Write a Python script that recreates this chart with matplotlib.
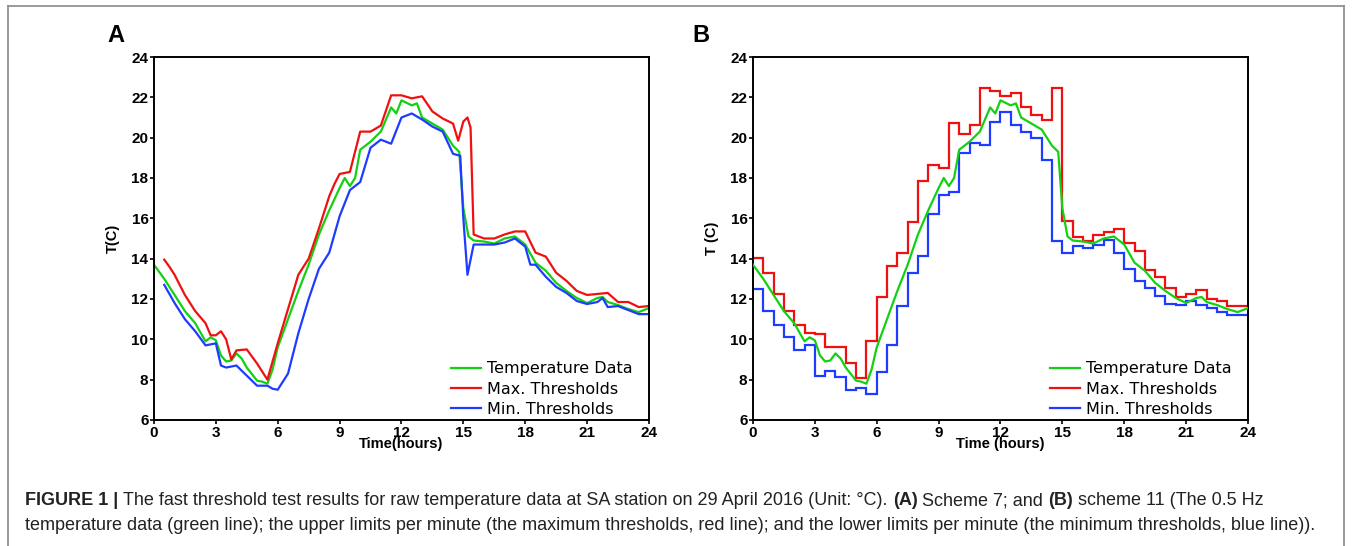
import numpy as np
import matplotlib
matplotlib.use('Agg')
import matplotlib.pyplot as plt
from matplotlib.lines import Line2D

plt.rcParams['font.family'] = ['Liberation Sans', 'DejaVu Sans']

# 温度データ（0.5 Hz、読み取り値）
temp_t = [0, 0.5, 1, 1.5, 2, 2.5, 2.75, 3, 3.25, 3.5, 3.75, 4, 4.25, 4.5, 5, 5.25,
          5.5, 5.75, 6, 6.5, 7, 7.5, 8, 8.5, 9, 9.25, 9.5, 9.75, 10, 10.5, 11,
          11.5, 11.75, 12, 12.5, 12.75, 13, 13.5, 14, 14.5, 14.8, 15, 15.25, 15.5,
          16, 16.5, 17, 17.5, 18, 18.5, 19, 19.5, 20, 20.5, 21, 21.5, 21.75, 22,
          22.5, 23, 23.5, 24]
temp_v = [13.7, 13.0, 12.2, 11.4, 10.8, 9.9, 10.1, 9.95, 9.2, 8.9, 8.95, 9.3, 9.05,
          8.6, 7.95, 7.9, 7.8, 8.5, 9.6, 11.0, 12.4, 13.7, 15.2, 16.4, 17.5, 18.0,
          17.6, 18.0, 19.4, 19.8, 20.3, 21.5, 21.2, 21.85, 21.6, 21.7, 21.0, 20.7,
          20.4, 19.6, 19.3, 16.5, 15.1, 14.9, 14.85, 14.75, 15.0, 15.1, 14.7, 13.8,
          13.4, 12.8, 12.4, 12.05, 11.8, 12.05, 12.1, 11.85, 11.7, 11.5, 11.35, 11.55]

# (A) Scheme 7 の上限・下限
a_max_t = [0.5, 0.75, 1, 1.5, 2, 2.5, 2.75, 3, 3.25, 3.5, 3.75, 4, 4.5, 5, 5.5, 6,
           6.5, 7, 7.5, 8, 8.5, 8.75, 9, 9.5, 10, 10.5, 11, 11.5, 12, 12.5, 13,
           13.5, 14, 14.5, 14.75, 15, 15.2, 15.35, 15.5, 16, 16.5, 17, 17.5, 18,
           18.5, 19, 19.5, 20, 20.5, 21, 21.5, 22, 22.5, 23, 23.5, 24]
a_max_v = [13.95, 13.6, 13.2, 12.2, 11.4, 10.8, 10.2, 10.2, 10.4, 10.0, 9.0, 9.45,
           9.5, 8.8, 8.0, 9.8, 11.5, 13.2, 14.0, 15.5, 17.1, 17.7, 18.2, 18.3, 20.3,
           20.3, 20.6, 22.1, 22.1, 21.95, 22.05, 21.3, 20.95, 20.7, 19.85, 20.8,
           21.0, 20.5, 15.2, 15.0, 15.0, 15.2, 15.35, 15.35, 14.3, 14.1, 13.3, 12.9,
           12.4, 12.2, 12.25, 12.3, 11.85, 11.85, 11.6, 11.65]
a_min_t = [0.5, 1, 1.5, 2, 2.5, 3, 3.25, 3.5, 4, 4.5, 5, 5.5, 5.75, 6, 6.5, 7, 7.5,
           8, 8.5, 9, 9.5, 10, 10.5, 11, 11.5, 12, 12.5, 13, 13.5, 14, 14.5, 14.85,
           15.0, 15.2, 15.5, 16, 16.5, 17, 17.5, 18, 18.25, 18.5, 19, 19.5, 20,
           20.5, 21, 21.5, 21.75, 22, 22.5, 23, 23.5, 24]
a_min_v = [12.7, 11.8, 11.0, 10.4, 9.7, 9.8, 8.7, 8.6, 8.7, 8.2, 7.7, 7.7, 7.55, 7.5,
           8.3, 10.3, 12.0, 13.5, 14.3, 16.1, 17.4, 17.8, 19.5, 19.9, 19.7, 21.0,
           21.2, 20.9, 20.55, 20.3, 19.2, 19.1, 16.0, 13.2, 14.7, 14.7, 14.7, 14.8,
           15.0, 14.6, 13.7, 13.7, 13.1, 12.6, 12.3, 11.9, 11.75, 11.85, 12.05, 11.6,
           11.65, 11.45, 11.25, 11.25]

# (B) Scheme 11 の上限・下限（30分ごとの階段）
b_step_t = np.arange(0, 24.5, 0.5)
b_max_v = [14.05, 13.3, 12.25, 11.4, 10.7, 10.3, 10.25, 9.6, 9.6, 8.85, 8.1, 9.9,
           12.1, 13.65, 14.3, 15.8, 17.85, 18.65, 18.5, 20.75, 20.2, 20.65, 22.45,
           22.3, 22.05, 22.2, 21.5, 21.1, 20.9, 22.45, 15.85, 15.05, 14.9, 15.15,
           15.3, 15.45, 14.8, 14.4, 13.45, 13.1, 12.55, 12.1, 12.25, 12.45, 12.0,
           11.9, 11.65, 11.65]
b_min_v = [12.5, 11.4, 10.7, 10.1, 9.45, 9.7, 8.2, 8.45, 8.15, 7.5, 7.6, 7.3, 8.4,
           9.7, 11.65, 13.3, 14.15, 16.2, 17.15, 17.3, 19.25, 19.75, 19.65, 20.8,
           21.25, 20.65, 20.3, 20.0, 18.9, 14.9, 14.3, 14.65, 14.55, 14.7, 14.95,
           14.3, 13.5, 12.9, 12.55, 12.15, 11.75, 11.7, 11.9, 11.7, 11.55, 11.35,
           11.2, 11.2]

green = '#12d012'
red = '#f01010'
blue = '#1e3cff'

fig = plt.figure(figsize=(13.54, 5.46), dpi=100)

ax_a = fig.add_axes([0.1137, 0.2308, 0.3656, 0.6648])
ax_b = fig.add_axes([0.5561, 0.2308, 0.3656, 0.6648])

ax_a.plot(temp_t, temp_v, color=green, lw=1.6, label='Temperature Data')
ax_a.plot(a_max_t, a_max_v, color=red, lw=1.6, label='Max. Thresholds')
ax_a.plot(a_min_t, a_min_v, color=blue, lw=1.6, label='Min. Thresholds')

ax_b.plot(temp_t, temp_v, color=green, lw=1.6, label='Temperature Data', zorder=3)
ax_b.stairs(b_max_v, b_step_t, color=red, lw=1.6, label='Max. Thresholds', baseline=None)
ax_b.stairs(b_min_v, b_step_t, color=blue, lw=1.6, label='Min. Thresholds', baseline=None)

for ax, xl, yl, tag, tx in [(ax_a, 'Time(hours)', 'T(C)', 'A', 0.0855),
                            (ax_b, 'Time (hours)', 'T (C)', 'B', 0.518)]:
    ax.set_xlim(0, 24)
    ax.set_ylim(6, 24)
    ax.set_xticks(range(0, 25, 3))
    ax.set_yticks(range(6, 25, 2))
    ax.tick_params(direction='out', length=3, width=1.2, pad=1, labelsize=11)
    for lab in ax.get_xticklabels() + ax.get_yticklabels():
        lab.set_fontweight('bold')
    for s in ax.spines.values():
        s.set_linewidth(1.4)
    ax.set_xlabel(xl, fontsize=10.5, fontweight='bold', labelpad=-2)
    ax.set_ylabel(yl, fontsize=10.5, fontweight='bold', labelpad=8)
    ax.legend(loc='lower right', bbox_to_anchor=(0.974, 0.0), frameon=False,
              prop={'family': 'DejaVu Sans', 'size': 11.5},
              handlelength=1.9, handletextpad=0.4, labelspacing=0.33,
              borderaxespad=0, borderpad=0.2)
    fig.text(tx, 0.935, tag, fontsize=17, fontweight='bold', ha='center', va='center')

# キャプション（太字部分を含むので、部品ごとに並べる）
caption_lines = [
    [('FIGURE 1 | ', 'bold'),
     ('The fast threshold test results for raw temperature data at SA station on 29 April 2016 (Unit: °C). ', 'normal'),
     ('(A)', 'bold'), (' Scheme 7; and ', 'normal'), ('(B)', 'bold'),
     (' scheme 11 (The 0.5 Hz', 'normal')],
    [('temperature data (green line); the upper limits per minute (the maximum thresholds, red line); '
      'and the lower limits per minute (the minimum thresholds, blue line)).', 'normal')],
]
renderer = fig.canvas.get_renderer()
for row, y in zip(caption_lines, [0.075, 0.029]):
    x = 0.0185
    for s, w in row:
        t = fig.text(x, y, s, fontsize=13, fontweight=w, color='#222222')
        bb = t.get_window_extent(renderer=renderer)
        x += bb.width / fig.bbox.width

# 外枠
for xs, ys in [([8, 8], [-10, 540]), ([8, 1344], [540, 540]), ([1344, 1344], [540, -10])]:
    fig.add_artist(Line2D(np.array(xs) / 1354, np.array(ys) / 546, color='#8a8a8a', lw=1.2))

fig.savefig('out.png', dpi=100)
